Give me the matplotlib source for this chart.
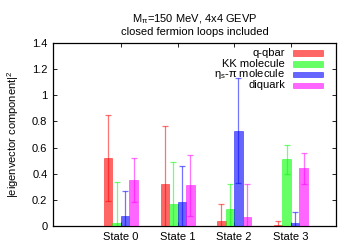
import numpy as np
import matplotlib
matplotlib.use("Agg")
import matplotlib.pyplot as plt
from matplotlib.patches import Rectangle

plt.rcParams['font.family'] = ['Liberation Sans', 'DejaVu Sans']
plt.rcParams['mathtext.fontset'] = 'custom'
plt.rcParams['mathtext.rm'] = 'Liberation Sans'

states = ["State 0", "State 1", "State 2", "State 3"]
labels = ["q-qbar", "KK molecule", r"η$_\mathrm{s}$-π molecule", "diquark"]
colors = ["#ff0000", "#00ff00", "#0000ff", "#ff00ff"]

# |eigenvector component|^2 and errors, per operator, per state
qqbar = [0.52, 0.32, 0.04, 0.005]
qqbar_err = [0.33, 0.445, 0.13, 0.03]
kk = [0.02, 0.17, 0.13, 0.51]
kk_err = [0.32, 0.32, 0.19, 0.11]
etapi = [0.08, 0.18, 0.73, 0.025]
etapi_err = [0.19, 0.28, 0.40, 0.08]
diquark = [0.35, 0.31, 0.07, 0.44]
diquark_err = [0.17, 0.235, 0.25, 0.115]

vals = [qqbar, kk, etapi, diquark]
errs = [qqbar_err, kk_err, etapi_err, diquark_err]

fig = plt.figure(figsize=(3.56, 2.49), dpi=100)
ax = fig.add_axes([0.149, 0.0924, 0.795, 0.735])

x = np.arange(len(states))
w = 0.15
offsets = [-1.5 * w, -0.5 * w, 0.5 * w, 1.5 * w]

for v, e, c, off in zip(vals, errs, colors, offsets):
    ax.errorbar(x + off, v, yerr=e, fmt='none', ecolor=c, alpha=0.55,
                elinewidth=0.9, capsize=2, capthick=0.9, zorder=2)
    ax.bar(x + off, v, width=w, color=c, alpha=0.6, edgecolor=c,
           linewidth=0.5, zorder=3)

ax.set_xlim(-1.2, 3.8)
ax.set_ylim(0, 1.4)
ax.set_xticks(x)
ax.set_xticklabels(states, fontsize=8)
yt = [0, 0.2, 0.4, 0.6, 0.8, 1, 1.2, 1.4]
ax.set_yticks(yt)
ax.set_yticklabels(["0", "0.2", "0.4", "0.6", "0.8", "1", "1.2", "1.4"], fontsize=8)
ax.tick_params(direction='in', top=True, right=True, length=3, width=0.6, pad=4)
for s in ax.spines.values():
    s.set_linewidth(0.9)

ax.set_ylabel(r"|eigenvector component|$^2$", fontsize=8, labelpad=8)
ax.set_title("M$_\\mathrm{π}$=150 MeV, 4x4 GEVP\nclosed fermion loops included",
             fontsize=8, pad=6, linespacing=1.1)

# gnuplot-style key: right-aligned text, sample box to the right
key_y = [0.945, 0.885, 0.828, 0.770]
for lab, c, ky in zip(labels, colors, key_y):
    ax.text(0.82, ky, lab, transform=ax.transAxes, ha='right', va='center',
            fontsize=8)
    ax.add_patch(Rectangle((0.848, ky - 0.014), 0.106, 0.028,
                           transform=ax.transAxes, facecolor=c, alpha=0.6,
                           edgecolor=c, linewidth=0.5, zorder=4))

fig.savefig("out.png", dpi=100)
